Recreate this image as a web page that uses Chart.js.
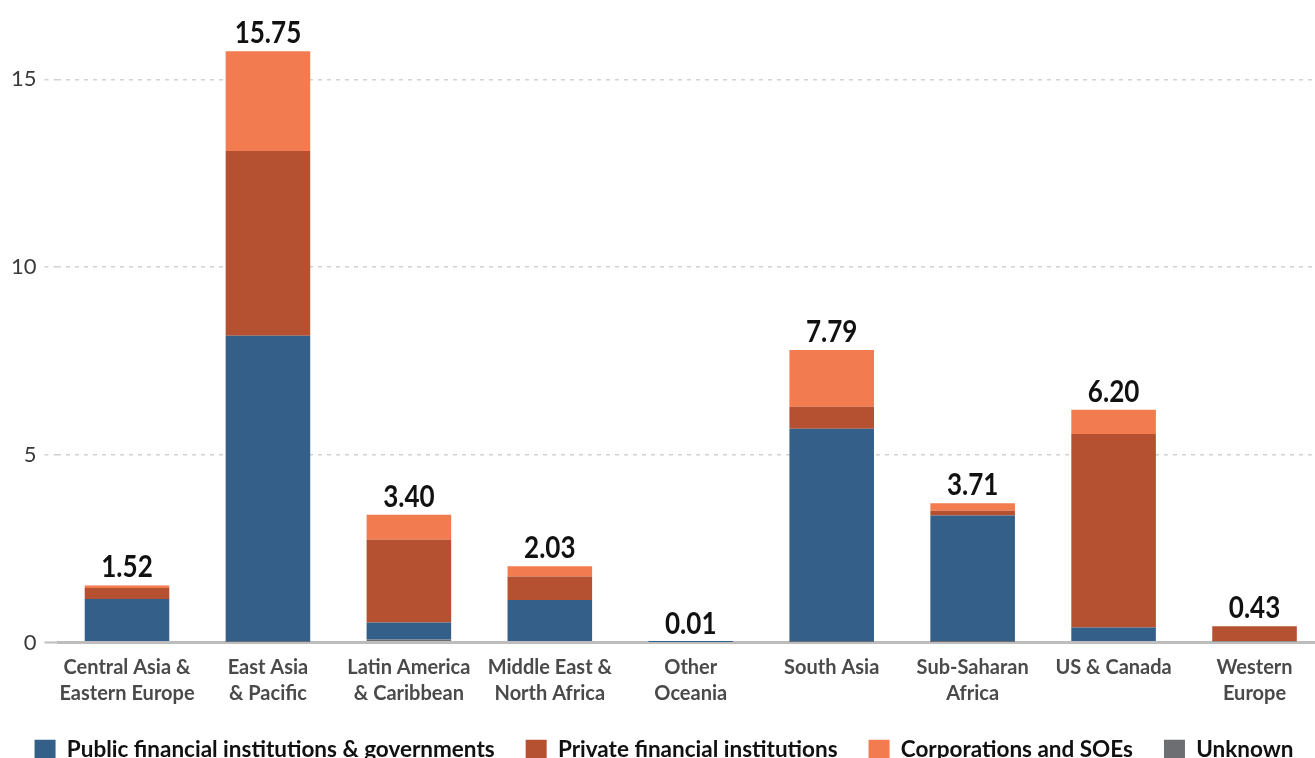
<!DOCTYPE html>
<html><head><meta charset="utf-8">
<script src="https://cdn.jsdelivr.net/npm/chart.js@4.4.1/dist/chart.umd.min.js"></script>
<style>html,body{margin:0;padding:0;background:#fff;overflow:hidden}
#wrap{position:relative;width:1325px;height:771px}</style></head>
<body><div id="wrap"><canvas id="c"></canvas></div>
<script>
const categories = [
  ['Central Asia &','Eastern Europe'], ['East Asia','& Pacific'], ['Latin America','& Caribbean'],
  ['Middle East &','North Africa'], ['Other','Oceania'], 'South Asia', ['Sub-Saharan','Africa'],
  'US & Canada', ['Western','Europe']
];
const publicFin  = [1.16, 8.15, 0.45, 1.13, 0.01, 5.67, 3.37, 0.40, 0.03];
const privateFin = [0.29, 4.92, 2.21, 0.63, 0.00, 0.59, 0.13, 5.15, 0.40];
const corporations = [0.07, 2.66, 0.66, 0.27, 0.00, 1.51, 0.20, 0.65, 0.00];
const unknown    = [0.00, 0.02, 0.08, 0.00, 0.00, 0.02, 0.01, 0.00, 0.00];
const yTicks = [0, 5, 10, 15];
const legendOrder = ['Public financial institutions & governments','Private financial institutions','Corporations and SOEs','Unknown'];

const series = [unknown, publicFin, privateFin, corporations];

const totalsPlugin = {
  id: 'totals',
  afterDatasetsDraw(chart) {
    const ctx = chart.ctx, y = chart.scales.y;
    const meta = chart.getDatasetMeta(1);
    categories.forEach((c, i) => {
      const total = series.reduce((s, d) => s + d[i], 0);
      ctx.save();
      ctx.translate(meta.data[i].x, y.getPixelForValue(total) - 8);
      ctx.scale(0.84, 1);
      ctx.font = '700 31px Lato';
      ctx.fillStyle = '#111';
      ctx.textAlign = 'center';
      ctx.textBaseline = 'alphabetic';
      ctx.fillText(total.toFixed(2), 0, 0);
      ctx.restore();
    });
  }
};

const isZero = c => c.tick && c.tick.value === 0;

new Chart(document.getElementById('c'), {
  type: 'bar',
  data: {
    labels: categories,
    datasets: [
      { label: 'Unknown', data: unknown, backgroundColor: '#6d6e71' },
      { label: 'Public financial institutions & governments', data: publicFin, backgroundColor: '#335f88' },
      { label: 'Private financial institutions', data: privateFin, backgroundColor: '#b55030' },
      { label: 'Corporations and SOEs', data: corporations, backgroundColor: '#f27b4f' }
    ]
  },
  options: {
    responsive: true,
    maintainAspectRatio: false,
    animation: false,
    datasets: { bar: { barPercentage: 0.6, categoryPercentage: 1, borderWidth: 0 } },
    layout: { padding: { left: 3, top: 23, right: 0, bottom: 0 } },
    scales: {
      x: {
        stacked: true,
        afterFit: s => { s.height = 65; },
        grid: { display: false, drawTicks: false },
        border: { display: false },
        ticks: { font: { family: 'Lato', size: 20, weight: '700', lineHeight: 1.3 }, color: '#4a4a4a', padding: 12, maxRotation: 0, autoSkip: false }
      },
      y: {
        stacked: true,
        min: 0, max: 16.5,
        afterBuildTicks: s => { s.ticks = yTicks.map(v => ({ value: v })); },
        grid: {
          color: c => isZero(c) ? '#bdbdbd' : '#d2d2d2',
          lineWidth: c => isZero(c) ? 3 : 1.5,
          tickColor: c => isZero(c) ? '#bdbdbd' : '#d2d2d2',
          tickWidth: c => isZero(c) ? 2 : 1.5,
          tickLength: 12,
          tickBorderDash: c => isZero(c) ? [] : [4, 5]
        },
        border: { display: false, dash: c => isZero(c) ? [] : [4, 5] },
        ticks: { font: { family: 'Lato', size: 22 }, color: '#3a3a3a', padding: 8 }
      }
    },
    plugins: {
      legend: {
        position: 'bottom',
        labels: {
          boxWidth: 21, boxHeight: 20, padding: 31,
          font: { family: 'Lato', size: 22.5, weight: '700' }, color: '#111',
          sort: (a, b) => legendOrder.indexOf(a.text) - legendOrder.indexOf(b.text)
        }
      },
      tooltip: { enabled: false }
    }
  },
  plugins: [totalsPlugin]
});
</script></body></html>
